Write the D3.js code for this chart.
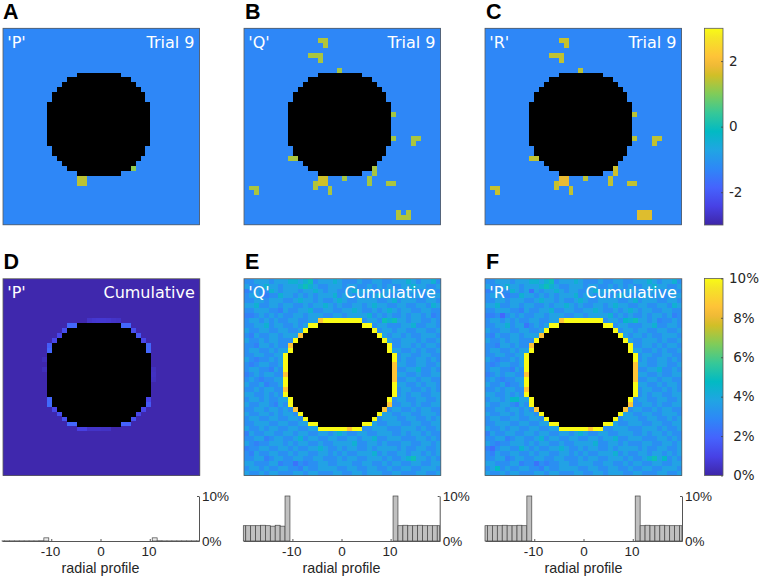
<!DOCTYPE html>
<html>
<head>
<meta charset="utf-8">
<script src="https://cdn.jsdelivr.net/npm/d3@7"></script>
<style>
  html, body { margin: 0; padding: 0; background: #fff; }
  svg { display: block; }
</style>
</head>
<body>
<div id="chart"></div>
<script>
// half width of the black disk for each row distance from its centre row
var diskHalfWidth = [10, 10, 10, 10, 10, 9, 9, 8, 7, 6, 4];
var diskCentre = 19;
var gridSize = 40;

// trial 9: [col, row, z]
var trialBackground = -1.29;
var trialP = [[15, 30, 1.42], [16, 30, 1.42], [15, 31, 1.42], [16, 31, 1.42], [26, 28, 1.1]];
var trialQ = [
  [15, 2, 1.35], [16, 2, 1.35], [16, 3, 1.35], [13, 5, 1.3], [14, 5, 1.3], [15, 5, 1.3], [15, 6, 1.3],
  [19, 8, 1.25], [30, 17, 1.25], [30, 22, 1.25], [34, 22, 1.3], [35, 22, 1.3], [34, 23, 1.3],
  [9, 26, 1.3], [10, 26, 1.3], [26, 28, 1.3], [26, 29, 1.3], [15, 30, 1.55], [16, 30, 1.55],
  [15, 31, 1.55], [16, 31, 1.55], [14, 31, 1.35], [14, 32, 1.35], [17, 32, 1.3], [17, 33, 1.3],
  [20, 30, 1.25], [25, 30, 1.25], [25, 31, 1.25], [29, 31, 1.3], [30, 31, 1.3], [1, 32, 1.3], [2, 32, 1.3],
  [2, 33, 1.3], [31, 37, 1.35], [33, 37, 1.35], [31, 38, 1.35], [32, 38, 1.35], [33, 38, 1.35]
];
var trialR = [
  [15, 2, 1.5], [16, 2, 1.5], [16, 3, 1.5], [13, 5, 1.45], [14, 5, 1.45], [15, 5, 1.45], [15, 6, 1.45],
  [19, 8, 1.4], [30, 17, 1.4], [30, 22, 1.4], [34, 22, 1.45], [35, 22, 1.45], [34, 23, 1.45],
  [9, 26, 1.45], [10, 26, 1.45], [26, 28, 1.55], [26, 29, 1.55], [15, 30, 1.8], [16, 30, 1.8],
  [15, 31, 1.8], [16, 31, 1.8], [14, 31, 1.5], [14, 32, 1.5], [17, 32, 1.45], [17, 33, 1.45],
  [20, 30, 1.4], [25, 30, 1.45], [25, 31, 1.45], [29, 31, 1.45], [30, 31, 1.45], [1, 32, 1.5], [2, 32, 1.5],
  [2, 33, 1.5], [31, 37, 1.7], [32, 37, 1.7], [33, 37, 1.7], [31, 38, 1.7], [32, 38, 1.7], [33, 38, 1.7]
];

// cumulative 'P': [col, row, percent] on a nearly empty field
var cumPBackground = 0.08;
var cumP = [
  [17, 8, 0.5], [18, 8, 0.6], [19, 8, 0.65], [20, 8, 0.65], [21, 8, 0.6], [22, 8, 0.5], [23, 8, 0.45],
  [13, 9, 2.0], [14, 9, 2.0], [24, 9, 2.0], [25, 9, 2.0], [12, 10, 1.3], [26, 10, 1.3], [11, 11, 1.1], [27, 11, 1.6],
  [10, 12, 1.1], [28, 12, 1.1], [9, 13, 1.7], [29, 13, 2.0], [9, 14, 2.0], [29, 14, 2.0],
  [8, 16, 0.3], [8, 18, 0.3], [30, 18, 0.35], [30, 19, 0.4], [30, 20, 0.35],
  [9, 24, 2.0], [29, 24, 1.1], [9, 25, 2.1], [29, 25, 1.6], [10, 26, 1.1], [28, 26, 1.1], [11, 27, 1.3], [27, 27, 1.1],
  [12, 28, 1.4], [26, 28, 1.4], [13, 29, 2.0], [14, 29, 2.0], [24, 29, 1.9], [25, 29, 1.9],
  [15, 30, 0.9], [16, 30, 0.9], [17, 30, 0.5], [18, 30, 0.5], [19, 30, 0.5], [20, 30, 0.45], [21, 30, 0.45]
];

// cumulative 'Q' read cell by cell, one code per cell, see cumLevels
var cumLevels = { "0": 1.9, "1": 2.3, "2": 2.7, "3": 3.1, "4": 3.7, "5": 4.3, "6": 5.0, "O": 8.6, "Y": 10 };
var cumQ = [
  "3344434445 5456344454 3334334433 4445434453",
  "4334544344 4565433444 3443343434 3344544334",
  "2343354344 4344543443 3454443344 4334433443",
  "3443233544 3434344453 4434334543 3444343344",
  "3344344433 4544343345 4334444334 5344433443",
  "4453344344 3343445434 3344345443 3443344354",
  "3344433243 3445334433 4454334345 4344334433",
  "2234343433 4434443344 3444453434 3343443423",
  "3443434334 43344OYYYY YYYY344365 6443443343",
  "3344534433 434YY..... ....YY3443 3344533443",
  "4334433443 34Y....... ......Y344 3443344334",
  "3243344344 4O........ .......Y43 4434334443",
  "4334344333 Y......... ........Y4 3344434334",
  "332443433O .......... .........Y 3344343443",
  "344334344Y .......... .........Y 4433434334",
  "33443344Y. .......... .......... Y344334433",
  "43233434Y. .......... .......... Y343344343",
  "32344334Y. .......... .......... O443344334",
  "34433243Y. .......... .......... O334453343",
  "23434433O. .......... .......... O443343344",
  "34323344Y. .......... .......... O334434433",
  "43342334Y. .......... .......... Y443343443",
  "33434433O. .......... .......... Y344334343",
  "44334343Y. .......... .......... Y343443344",
  "344343344Y .......... .........Y 3443344334",
  "433443243Y .......... .........O 3344343344",
  "3344344343 O......... ........O3 4433434433",
  "4334434344 3Y........ .......Y44 3344334443",
  "3443344334 43Y....... ......Y344 4334433434",
  "3344433443 344YY..... ....YY4334 4433443344",
  "4334344334 43344YYYYY YOYY334443 3344434334",
  "2433443344 3443344345 4334433444 3343443433",
  "3344234433 4534433443 3443445334 4433344343",
  "4323344434 3443343344 4453344343 3344334434",
  "2334433443 4334454334 3443343444 4343344334",
  "3243344334 3443344343 4334445343 3443443434",
  "3344234433 4433443334 3443344434 3345644343",
  "4433344233 1323344334 4433443343 4433443344",
  "3443433443 3243344443 3443344334 3344334443",
  "4334344333 4434433344 3344344433 4433344334"
];
// cells where 'R' differs from 'Q': [col, row, percent]
var cumRChanges = [[3, 7, 2.0], [8, 9, 2.4], [9, 2, 2.3], [35, 8, 2.8], [28, 8, 4.6], [5, 24, 4.6], [6, 24, 4.6], [36, 36, 4.6], [1, 34, 2.2], [7, 34, 4.4], [2, 38, 4.7]];

// radial profile bins and heights in percent
var profileBins = [-20, -19, -18, -17, -16, -15, -14, -13, -12, -11, 11, 12, 13, 14, 15, 16, 17, 18, 19, 20];
var profileP = [0.03, 0.03, 0.03, 0.03, 0.03, 0.03, 0.03, 0.03, 0.05, 0.7, 0.7, 0.05, 0.03, 0.03, 0.03, 0.03, 0.03, 0.03, 0.03, 0.03];
var profileQ = [3.4, 3.4, 3.4, 3.4, 3.5, 3.4, 3.3, 3.5, 3.3, 10, 10, 3.4, 3.5, 3.4, 3.4, 3.5, 3.4, 3.4, 3.4, 3.4];
var profileR = [3.4, 3.4, 3.4, 3.4, 3.5, 3.4, 3.4, 3.5, 3.4, 10, 10, 3.4, 3.5, 3.4, 3.4, 3.5, 3.4, 3.4, 3.4, 3.4];

var colorbarZ = [-2, 0, 2];
var colorbarPct = [0, 2, 4, 6, 8, 10];
var profileTicks = [-10, 0, 10];
var profilePctTicks = [0, 10];

// parula: colour stops and where they sit on the 0..1 range
var parula = ["#3e26a8", "#4741e5", "#4563fd", "#2e87f7", "#20a5e3", "#02bac3", "#37c897", "#80cc59", "#d1bf27",
  "#efba36", "#fec338", "#f5e526", "#f9fb15"];
var parulaAt = [0, 0.095, 0.19, 0.286, 0.381, 0.476, 0.571, 0.667, 0.762, 0.81, 0.857, 0.952, 1];

var svg = d3.select("#chart").append("svg").attr("width", 760).attr("height", 579);

function colorScale(lo, hi) {
  return d3.scaleLinear()
    .domain(parulaAt.map(function(t) { return lo + (hi - lo) * t; }))
    .range(parula)
    .clamp(true);
}
var zColor = colorScale(-3, 3);
var pctColor = colorScale(0, 10);

function sparseGrid(background, list) {
  var cells = [];
  d3.range(gridSize).forEach(function(row) {
    d3.range(gridSize).forEach(function(col) { cells.push({ col: col, row: row, v: background }); });
  });
  list.forEach(function(d) { cells[d[1] * gridSize + d[0]].v = d[2]; });
  return cells;
}

function codedGrid(rows, changes) {
  var cells = [];
  rows.forEach(function(text, row) {
    text.replace(/ /g, "").split("").forEach(function(ch, col) {
      cells.push({ col: col, row: row, v: ch === "." ? 0 : cumLevels[ch] });
    });
  });
  changes.forEach(function(d) { cells[d[1] * gridSize + d[0]].v = d[2]; });
  return cells;
}

function heatPanel(left, top, size, cells, color, name, title) {
  var x = d3.scaleBand().domain(d3.range(gridSize)).range([left, left + size]);
  var y = d3.scaleBand().domain(d3.range(gridSize)).range([top, top + size]);
  var g = svg.append("g");

  g.append("g").selectAll("rect")
    .data(cells)
    .enter().append("rect")
    .attr("x", function(d) { return x(d.col); })
    .attr("y", function(d) { return y(d.row); })
    .attr("width", x.bandwidth() + 0.2)
    .attr("height", y.bandwidth() + 0.2)
    .attr("shape-rendering", "crispEdges")
    .attr("fill", function(d) { return color(d.v); });

  // black disk
  var disk = [];
  diskHalfWidth.forEach(function(h, i) {
    disk.push({ row: diskCentre - i, h: h });
    if (i > 0) disk.push({ row: diskCentre + i, h: h });
  });
  g.append("g").selectAll("rect")
    .data(disk)
    .enter().append("rect")
    .attr("x", function(d) { return x(diskCentre - d.h); })
    .attr("y", function(d) { return y(d.row); })
    .attr("width", function(d) { return (2 * d.h + 1) * x.bandwidth(); })
    .attr("height", y.bandwidth() + 0.2)
    .attr("shape-rendering", "crispEdges")
    .attr("fill", "#000");

  g.append("rect")
    .attr("x", left).attr("y", top).attr("width", size).attr("height", size)
    .attr("fill", "none").attr("stroke", "#5c5c5c").attr("stroke-width", 0.8);

  g.append("text").attr("x", left + 4.3).attr("y", top + 19.5)
    .attr("font-family", "DejaVu Sans").attr("font-size", "16px").attr("fill", "#fff")
    .text(name);
  g.append("text").attr("x", left + size - 5).attr("y", top + 19.5)
    .attr("text-anchor", "end")
    .attr("font-family", "DejaVu Sans").attr("font-size", "16px").attr("fill", "#fff")
    .text(title);
}

function profilePanel(left, right, values) {
  var x = d3.scaleLinear().domain([-20, 20]).range([left, right]).clamp(true);
  var y = d3.scaleLinear().domain([0, 10]).range([541, 496]);
  var g = svg.append("g");

  g.append("g").selectAll("rect")
    .data(profileBins)
    .enter().append("rect")
    .attr("x", function(d) { return x(d - 0.5); })
    .attr("width", function(d) { return x(d + 0.5) - x(d - 0.5); })
    .attr("y", function(d, i) { return y(values[i]); })
    .attr("height", function(d, i) { return 541 - y(values[i]); })
    .attr("fill", function(d, i) { return values[i] < 1 ? "#ececec" : "#c0c0c0"; })
    .attr("stroke", "#444")
    .attr("stroke-width", 0.7);

  var xAxis = g.append("g")
    .attr("transform", "translate(0,541)")
    .call(d3.axisBottom(x).tickValues(profileTicks).tickFormat(function(d) { return d; })
      .tickSizeInner(-2).tickSizeOuter(0).tickPadding(5));
  var yAxis = g.append("g")
    .attr("transform", "translate(" + right + ",0)")
    .call(d3.axisRight(y).tickValues(profilePctTicks).tickFormat(function(d) { return d + "%"; })
      .tickSizeInner(-2).tickSizeOuter(0).tickPadding(3));
  [xAxis, yAxis].forEach(function(a) {
    a.selectAll("path, line").attr("stroke", "#555").attr("stroke-width", 1);
    a.selectAll("text").attr("font-family", "Liberation Sans").attr("font-size", "13.5px").attr("fill", "#262626");
  });
  // the -10 and 10 labels sit a little left of their ticks
  xAxis.selectAll("text").attr("dx", function(d) { return d === 0 ? 0 : -1.2; });

  g.append("text")
    .attr("x", (left + right) / 2).attr("y", 573)
    .attr("text-anchor", "middle")
    .attr("font-family", "Liberation Sans").attr("font-size", "14.3px").attr("fill", "#262626")
    .text("radial profile");
}

function colorbar(id, top, bottom, lo, hi, ticks, format, padding, anchor) {
  var grad = svg.append("defs").append("linearGradient")
    .attr("id", id).attr("x1", 0).attr("y1", 1).attr("x2", 0).attr("y2", 0);
  grad.selectAll("stop")
    .data(parula)
    .enter().append("stop")
    .attr("offset", function(d, i) { return parulaAt[i]; })
    .attr("stop-color", function(d) { return d; });

  svg.append("rect")
    .attr("x", 704.5).attr("y", top).attr("width", 18.5).attr("height", bottom - top)
    .attr("fill", "url(#" + id + ")")
    .attr("stroke", "#5c5c5c").attr("stroke-width", 0.8);

  var y = d3.scaleLinear().domain([lo, hi]).range([bottom, top]);
  var axis = svg.append("g")
    .attr("transform", "translate(723,0)")
    .call(d3.axisRight(y).tickValues(ticks).tickFormat(format)
      .tickSizeInner(-2).tickSizeOuter(0).tickPadding(padding));
  axis.select("path").remove();
  axis.selectAll("line").attr("stroke", "#444").attr("stroke-width", 0.8);
  axis.selectAll("text")
    .attr("text-anchor", anchor)
    .attr("font-family", "DejaVu Sans").attr("font-size", "13.5px").attr("fill", "#262626");
}

function panelLetter(letter, x, y) {
  svg.append("text").attr("x", x).attr("y", y)
    .attr("font-family", "Liberation Sans").attr("font-weight", "bold").attr("font-size", "21.5px").attr("fill", "#000")
    .text(letter);
}

// top row
heatPanel(3, 28.3, 196.5, sparseGrid(trialBackground, trialP), zColor, "'P'", "Trial 9");
heatPanel(244, 28.3, 196.5, sparseGrid(trialBackground, trialQ), zColor, "'Q'", "Trial 9");
heatPanel(485, 28.3, 196.5, sparseGrid(trialBackground, trialR), zColor, "'R'", "Trial 9");
colorbar("barZ", 28.3, 225, -3, 3, colorbarZ, function(d) { return d; }, 6, "start");

// bottom row
heatPanel(3, 278.7, 196.8, sparseGrid(cumPBackground, cumP), pctColor, "'P'", "Cumulative");
heatPanel(244, 278.7, 196.8, codedGrid(cumQ, []), pctColor, "'Q'", "Cumulative");
heatPanel(485, 278.7, 196.8, codedGrid(cumQ, cumRChanges), pctColor, "'R'", "Cumulative");
colorbar("barPct", 278.4, 475.5, 0, 10, colorbarPct, function(d) { return d + "%"; }, 21, "middle");

profilePanel(2, 199, profileP);
profilePanel(243.3, 439.7, profileQ);
profilePanel(485, 682, profileR);

panelLetter("A", 3, 18.5);
panelLetter("B", 245, 18.5);
panelLetter("C", 486, 18.5);
panelLetter("D", 3.5, 269);
panelLetter("E", 245, 269);
panelLetter("F", 486, 269);
</script>
</body>
</html>
